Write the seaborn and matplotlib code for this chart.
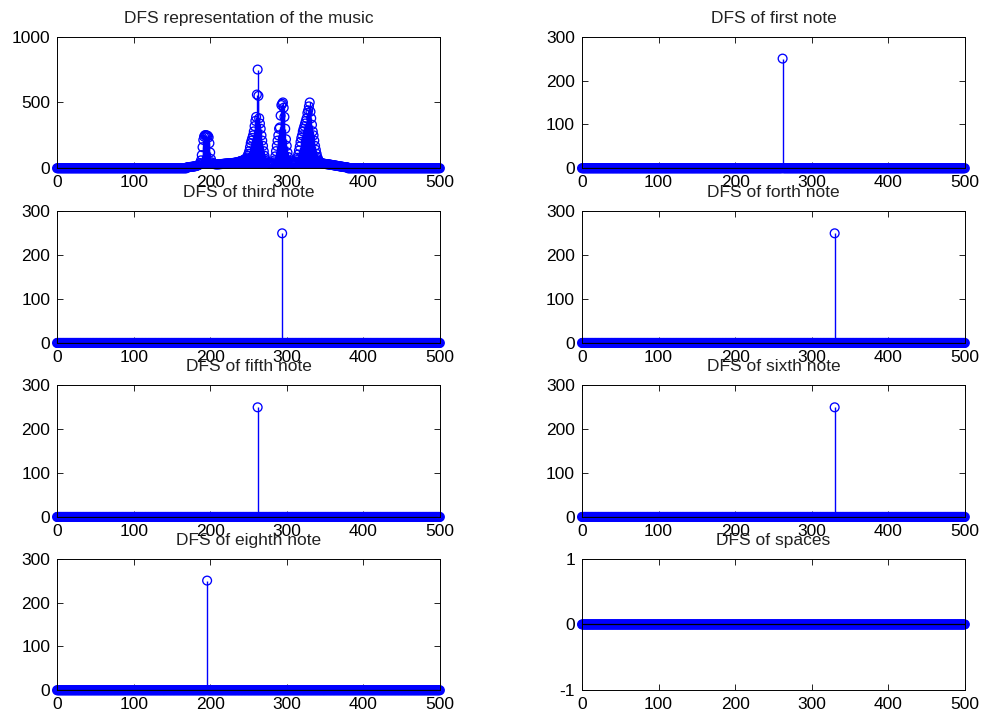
import numpy as np
import pandas as pd
import matplotlib
matplotlib.use("Agg")
import matplotlib.pyplot as plt
import seaborn as sns

# ---------------- data ----------------
n_bins = 501  # DFS bins 0..500
music_start = 170  # first bin of the non-zero region of the music spectrum
music_values = [
    8, 8, 9, 9, 10, 10, 11, 12, 13, 14,            # 170-179
    15, 16, 18, 20, 22, 25, 30, 40, 60, 100,       # 180-189
    160, 215, 240, 250, 252, 250, 248, 245, 235, 190,  # 190-199
    120, 70, 45, 38, 34, 32, 31, 30, 30, 30,       # 200-209
    30, 30, 31, 31, 32, 32, 33, 33, 34, 35,        # 210-219
    35, 36, 36, 37, 37, 38, 38, 39, 39, 40,        # 220-229
    40, 41, 42, 43, 44, 45, 46, 48, 50, 52,        # 230-239
    54, 56, 58, 60, 63, 66, 70, 75, 82, 95,        # 240-249
    110, 130, 160, 190, 210, 230, 250, 280, 320, 360,  # 250-259
    390, 560, 750, 550, 380, 340, 300, 250, 210, 170,  # 260-269
    130, 95, 70, 55, 45, 40, 38, 36, 35, 35,       # 270-279
    35, 36, 38, 45, 60, 90, 130, 170, 210, 250,    # 280-289
    300, 310, 400, 480, 490, 500, 460, 390, 300, 220,  # 290-299
    170, 120, 85, 60, 48, 42, 39, 38, 37, 37,      # 300-309
    38, 42, 50, 62, 80, 105, 135, 165, 200, 230,   # 310-319
    250, 280, 300, 320, 340, 360, 380, 420, 440, 470,  # 320-329
    500, 430, 380, 330, 280, 250, 210, 170, 140, 110,  # 330-339
    85, 68, 56, 48, 43, 40, 38, 36, 35, 34,        # 340-349
    33, 32, 31, 30, 30, 29, 28, 27, 26, 25,        # 350-359
    24, 23, 22, 21, 20, 19, 18, 17, 16, 15,        # 360-369
    14, 13, 12, 11, 10, 9, 9, 8, 8, 8,             # 370-379
]
music_title = "DFS representation of the music"

note_titles = ["DFS of first note", "DFS of third note", "DFS of forth note",
               "DFS of fifth note", "DFS of sixth note", "DFS of eighth note"]
note_peak_bins = [262, 294, 330, 262, 330, 196]
note_peak_values = [250, 250, 250, 250, 250, 250]
spaces_title = "DFS of spaces"

x_ticks = [0, 100, 200, 300, 400, 500]
music_yticks = [0, 500, 1000]
note_yticks = [0, 100, 200, 300]
spaces_yticks = [-1, 0, 1]

# ---------------- style ----------------
sns.set_style("ticks")
plt.rcParams['font.family'] = ['Liberation Sans', 'DejaVu Sans']
plt.rcParams['axes.edgecolor'] = 'black'
plt.rcParams['axes.linewidth'] = 0.7
plt.rcParams['axes.unicode_minus'] = False

fig = plt.figure(figsize=(9.84, 7.19), dpi=100)
lefts = [0.058, 0.5915]
bottoms = [0.766, 0.523, 0.281, 0.040]
width, height = 0.389, 0.183


def stem(ax, y, title, yticks):
    x = np.arange(n_bins)
    y = np.asarray(y, dtype=float)
    nz = y != 0
    ax.vlines(x[nz], 0, y[nz], colors='#0000ff', lw=1.0, zorder=1)
    df = pd.DataFrame({"bin": x, "mag": y})
    sns.scatterplot(data=df, x="bin", y="mag", ax=ax, marker='o', s=40,
                    color='#0000ff', facecolors='none', edgecolor='#0000ff',
                    linewidth=0.95, clip_on=False, legend=False, zorder=2)
    ax.axhline(0, color='black', lw=0.9, zorder=3)
    ax.set_xlim(0, 500)
    ax.set_ylim(yticks[0], yticks[-1])
    ax.set_xticks(x_ticks)
    ax.set_yticks(yticks)
    ax.set_xlabel("")
    ax.set_ylabel("")
    ax.tick_params(direction='in', top=True, right=True, length=4, width=0.6,
                   labelsize=12.5, pad=5, colors='black')
    for s in ax.spines.values():
        s.set_visible(True)
        s.set_color('black')
        s.set_linewidth(0.7)
    ax.set_title(title, fontsize=12.5, pad=10, color='#222222')


positions = [(lefts[c], bottoms[r]) for r in range(4) for c in range(2)]

# music
music = np.zeros(n_bins)
music[music_start:music_start + len(music_values)] = music_values
ax = fig.add_axes([positions[0][0], positions[0][1], width, height])
stem(ax, music, music_title, music_yticks)

for i, (t, b, v) in enumerate(zip(note_titles, note_peak_bins, note_peak_values)):
    y = np.zeros(n_bins)
    y[b] = v
    p = positions[i + 1]
    ax = fig.add_axes([p[0], p[1], width, height])
    stem(ax, y, t, note_yticks)

p = positions[7]
ax = fig.add_axes([p[0], p[1], width, height])
stem(ax, np.zeros(n_bins), spaces_title, spaces_yticks)

fig.savefig("out.png", dpi=100, facecolor='white')
